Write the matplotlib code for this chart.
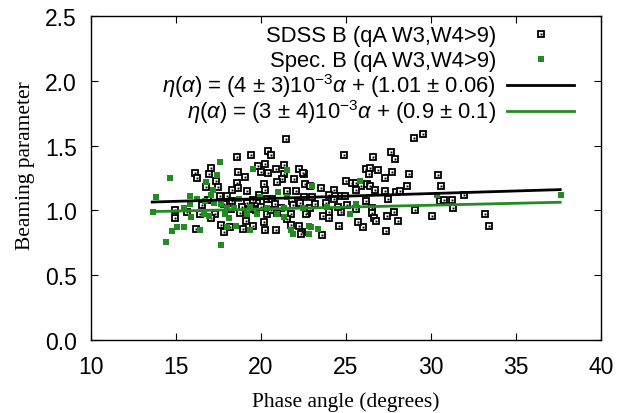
import matplotlib
matplotlib.use("Agg")
import matplotlib.pyplot as plt
import numpy as np

sdss_angle = [28.99, 29.52, 24.87, 26.60, 27.62, 27.91, 26.15, 26.44, 26.34, 26.89,
              27.68, 27.32, 28.72, 30.40, 30.60, 24.99, 25.36, 25.56, 25.91, 26.25,
              26.44, 25.56, 26.72, 27.28, 27.95, 28.15, 28.56, 27.48, 23.54, 24.32,
              23.99, 24.28, 24.68, 24.93, 22.52, 22.56, 22.91, 25.07, 25.56, 26.19,
              26.54, 24.68, 23.99, 23.66, 24.01, 22.68, 22.91, 26.50, 26.64, 26.75,
              27.42, 27.81, 28.07, 29.05, 30.03, 30.50, 30.75, 31.25, 31.28, 31.93,
              33.16, 33.44, 24.58, 26.01, 25.72, 27.38, 23.56, 22.42, 21.46, 18.58,
              19.40, 20.40, 20.60, 16.11, 16.25, 17.03, 16.95, 17.38, 17.48, 16.75,
              18.62, 19.05, 18.60, 18.66, 19.16, 19.81, 20.25, 20.01, 20.40, 20.89,
              21.34, 21.38, 21.25, 21.97, 22.22, 22.48, 20.16, 20.26, 20.95, 22.07,
              18.01, 18.31, 19.19, 19.78, 20.36, 20.66, 21.84, 22.52, 14.97, 14.97,
              15.62, 16.44, 17.32, 18.21, 18.79, 19.68, 20.36, 20.95, 21.74, 22.62,
              16.16, 17.62, 17.81, 18.16, 18.95, 19.09, 19.54, 20.16, 20.26, 20.89,
              21.54, 22.22, 22.36, 21.74, 17.03,
              16.50, 17.80, 18.90, 19.50, 20.00, 20.80, 21.20, 21.90, 22.30, 23.20,
              23.80, 24.50, 19.90, 21.50, 18.30, 17.60, 23.00, 19.30, 20.60, 16.90]
sdss_beam = [1.56, 1.59, 1.43, 1.41, 1.45, 1.40, 1.32, 1.33, 1.28, 1.31,
             1.30, 1.25, 1.28, 1.27, 1.19, 1.23, 1.21, 1.21, 1.19, 1.20,
             1.19, 1.16, 1.16, 1.15, 1.14, 1.15, 1.19, 1.09, 1.17, 1.16,
             1.12, 1.09, 1.11, 1.11, 1.28, 1.20, 1.19, 1.04, 1.01, 1.07,
             1.02, 0.99, 0.99, 0.96, 0.94, 0.98, 1.02, 0.98, 0.94, 0.92,
             0.96, 0.99, 0.92, 1.00, 0.96, 1.07, 1.08, 1.08, 1.02, 1.12,
             0.97, 0.88, 0.88, 0.87, 0.91, 0.84, 0.81, 0.83, 1.55, 1.41,
             1.43, 1.46, 1.43, 1.29, 1.25, 1.33, 1.28, 1.23, 1.18, 1.18,
             1.30, 1.26, 1.21, 1.17, 1.15, 1.34, 1.36, 1.30, 1.29, 1.32,
             1.35, 1.28, 1.24, 1.24, 1.32, 1.29, 1.20, 1.16, 1.22, 1.15,
             1.11, 1.07, 1.06, 1.06, 1.09, 1.09, 1.07, 1.10, 1.00, 0.94,
             0.99, 0.97, 0.97, 1.01, 0.98, 1.00, 0.97, 0.98, 0.97, 0.97,
             0.86, 0.89, 0.83, 0.87, 0.86, 0.92, 0.88, 0.91, 0.85, 0.85,
             0.93, 0.88, 0.82, 0.89, 0.94,
             1.04, 1.05, 1.03, 1.08, 1.03, 1.05, 1.02, 1.04, 1.06, 1.05,
             1.06, 1.03, 1.12, 1.15, 1.16, 1.11, 1.10, 1.01, 1.00, 1.08]

spec_angle = [23.01, 25.85, 30.36, 25.56, 23.89, 25.26, 22.48, 22.95, 23.36, 22.84,
              37.62, 17.56, 19.54, 21.54, 17.42, 16.74, 17.16, 17.03, 15.81, 16.25,
              16.68, 17.22, 18.69, 19.97, 21.01, 21.54, 15.46, 15.85, 17.62, 18.01,
              18.40, 19.38, 20.36, 21.34, 15.89, 16.64, 16.93, 17.91, 18.11, 19.19,
              19.78, 20.95, 21.38, 14.74, 15.07, 15.46, 16.40, 18.01, 18.50, 19.38,
              21.74, 21.89, 22.81, 14.44, 17.66, 14.62, 13.85, 13.62]
spec_beam = [1.19, 1.23, 1.12, 1.05, 1.03, 0.97, 1.02, 0.87, 0.86, 0.82,
             1.12, 1.37, 1.32, 1.31, 1.27, 1.22, 1.16, 1.12, 1.11, 1.09,
             1.07, 1.06, 1.09, 1.10, 1.14, 1.10, 1.02, 1.05, 1.05, 1.02,
             1.02, 1.03, 1.02, 1.02, 0.95, 0.97, 0.96, 0.97, 0.94, 0.97,
             0.97, 0.97, 0.95, 0.84, 0.87, 0.87, 0.85, 0.87, 0.88, 0.85,
             0.85, 0.82, 0.88, 0.76, 0.73, 1.25, 1.10, 0.99]

fit_range = [13.6, 37.6]
sdss_fit = [0.004, 1.01]   # slope, intercept
spec_fit = [0.003, 0.95]

labels = ["SDSS B (qA W3,W4>9)",
          "Spec. B (qA W3,W4>9)",
          r"$\eta(\alpha)$ = (4 ± 3)10$^{-3}$$\alpha$ + (1.01 ± 0.06)",
          r"$\eta(\alpha)$ = (3 ± 4)10$^{-3}$$\alpha$ + (0.9 ± 0.1)"]

plt.rcParams['font.family'] = ['Liberation Sans', 'DejaVu Sans']
plt.rcParams['mathtext.fontset'] = 'custom'
plt.rcParams['mathtext.rm'] = 'Liberation Sans'
plt.rcParams['mathtext.it'] = 'Liberation Sans:italic'

GREEN = '#228b22'
FS = 16.5
KFS = 15.8

W, H = 636, 414
L, R, B, T = 91, 601, 341, 17
fig = plt.figure(figsize=(W/100, H/100), dpi=100)
ax = fig.add_axes([L/W, 1-B/H, (R-L)/W, (B-T)/H])

def axfrac(px, py):
    return (px - L) / (R - L), (B - py) / (B - T)

sq_kw = dict(ls='none', marker='s', ms=5.0, mfc='white', mec='black', mew=1.3)
dot_kw = dict(ls='none', marker='s', ms=1.4, mfc='black', mec='black', mew=0.0)
gr_kw = dict(ls='none', marker='s', ms=4.5, mfc=GREEN, mec=GREEN, mew=0.0)

ax.plot(sdss_angle, sdss_beam, zorder=2, **sq_kw)
ax.plot(sdss_angle, sdss_beam, zorder=2, **dot_kw)
ax.plot(spec_angle, spec_beam, zorder=3, **gr_kw)

xf = np.array(fit_range)
ax.plot(xf, np.polyval(sdss_fit, xf), color='black', lw=2.0, zorder=4)
ax.plot(xf, np.polyval(spec_fit, xf), color=GREEN, lw=2.0, zorder=5)

ax.set_xlim(10, 40)
ax.set_ylim(0, 2.5)
ax.set_xticks(np.arange(10, 41, 5))
ax.set_yticks(np.arange(0, 2.51, 0.5))
ax.set_yticklabels([f"{v:.1f}" for v in np.arange(0, 2.51, 0.5)])
ax.tick_params(direction='in', length=5, width=0.8, top=True, right=True,
               labelsize=FS)
ax.tick_params(axis='x', pad=11)
ax.tick_params(axis='y', pad=10)
for s in ax.spines.values():
    s.set_linewidth(1.0)

ax.set_xlabel("Phase angle (degrees)", family='Liberation Serif', fontsize=15.5, labelpad=9)
ax.set_ylabel("Beaming parameter", family='Liberation Serif', fontsize=15.5, labelpad=6)
ax.yaxis.set_label_coords(-0.11, 0.54)

# key (gnuplot style: right-aligned text, sample on the right)
text_right = 496
rows_py = [35, 60, 86, 112]
for lab, py in zip(labels, rows_py):
    tx, ty = axfrac(text_right, py + 7)
    ax.text(tx, ty, lab, transform=ax.transAxes, ha='right', va='baseline',
            fontsize=KFS)
mx, my1 = axfrac(541, rows_py[0])
_, my2 = axfrac(541, rows_py[1])
ax.plot([mx], [my1], transform=ax.transAxes, clip_on=False, zorder=6, **sq_kw)
ax.plot([mx], [my1], transform=ax.transAxes, clip_on=False, zorder=6, **dot_kw)
ax.plot([mx], [my2], transform=ax.transAxes, clip_on=False, zorder=6, **gr_kw)
lx0, ly3 = axfrac(507, rows_py[2])
lx1, ly4 = axfrac(574, rows_py[3])
ax.plot([lx0, lx1], [ly3, ly3], transform=ax.transAxes, color='black', lw=2.0)
ax.plot([lx0, lx1], [ly4, ly4], transform=ax.transAxes, color=GREEN, lw=2.0)

fig.savefig("out.png", dpi=100)
